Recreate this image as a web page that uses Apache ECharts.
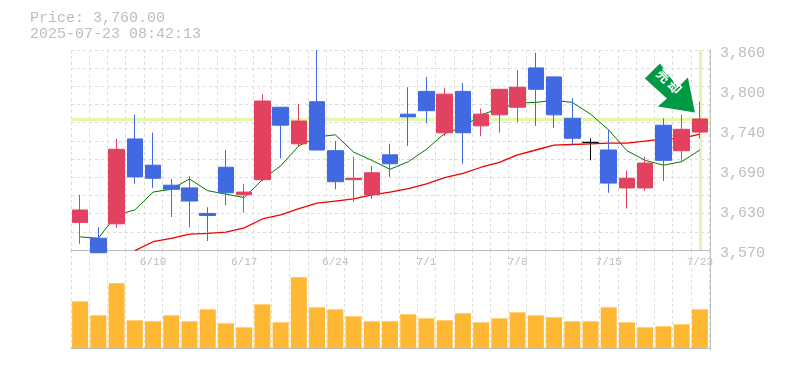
<!DOCTYPE html>
<html>
<head>
<meta charset="utf-8">
<style>html,body{margin:0;padding:0;background:#fff}</style>
<script src="https://cdn.jsdelivr.net/npm/echarts@6/dist/echarts.min.js"></script>
</head>
<body>
<div id="chart" style="width:785px;height:370px"></div>
<script>
const days = ['6/4','6/5','6/6','6/9','6/10','6/11','6/12','6/13','6/16','6/17','6/18','6/19','6/20','6/23','6/24','6/25','6/26','6/27','6/30','7/1','7/2','7/3','7/4','7/7','7/8','7/9','7/10','7/11','7/14','7/15','7/16','7/17','7/18','7/22','7/23'];
const labelDays = ['6/10','6/17','6/24','7/1','7/8','7/15','7/23'];
const opens = [3610,3587,3608,3731,3693,3664,3660,3623,3690,3650,3672,3777,3724,3785,3714,3672,3650,3708,3767,3800,3740,3800,3750,3766,3777,3834,3821,3761,3726,3715,3660,3660,3751,3714,3741];
const closes = [3628,3566,3716,3676,3674,3658,3641,3620,3653,3654,3786,3751,3757,3715,3669,3674,3682,3695,3763,3772,3796,3740,3767,3803,3806,3803,3766,3732,3726,3667,3674,3696,3700,3745,3760];
const highs = [3650,3603,3731,3766,3740,3673,3677,3632,3715,3666,3796,3777,3782,3860,3728,3705,3692,3724,3806,3821,3805,3812,3775,3803,3831,3856,3821,3790,3732,3744,3685,3705,3761,3766,3785];
const lows = [3579,3566,3602,3666,3660,3618,3603,3583,3635,3624,3670,3703,3720,3715,3658,3640,3644,3676,3721,3754,3735,3695,3735,3740,3755,3750,3747,3722,3700,3653,3630,3656,3670,3698,3732];
const ma5 = [3589,3587,3621,3628,3654,3658,3673,3656,3651,3646,3672,3692,3721,3734,3737,3712,3700,3687,3698,3716,3739,3748,3766,3775,3783,3784,3787,3784,3767,3744,3714,3700,3693,3698,3715];
const ma25 = [null,null,null,3569,3582,3587,3593,3594,3596,3602,3615,3621,3630,3638,3641,3644,3650,3654,3659,3666,3675,3681,3690,3697,3708,3715,3722,3723,3724,3725,3725,3728,3731,3732,3738];
const volumes = [140,98,194,83,80,98,80,116,74,62,131,77,212,122,116,95,80,80,101,89,83,104,77,89,107,98,92,80,80,122,77,62,65,71,116];
const priceTicks = [3570,3628,3686,3744,3802,3860];
const lastPrice = 3760;
const blackDoji = '7/14';

const gray = '#bdbdbd';
const monoFont = '"Liberation Mono", monospace';
const gridDash = { show: true, lineStyle: { color: '#dcdcdc', width: 1, type: [3, 3] } };

let candles = days.map((d, i) => {
    let item = { value: [opens[i], closes[i], lows[i], highs[i]] };
    if (d === blackDoji) {
        item.itemStyle = { color: '#000', color0: '#000', borderColor: '#000', borderColor0: '#000', borderColorDoji: '#000' };
    }
    return item;
});

let option = {
    animation: false,
    backgroundColor: '#fff',
    title: {
        text: 'Price: 3,760.00\n2025-07-23 08:42:13',
        left: 30,
        top: 10,
        padding: 0,
        textStyle: { fontFamily: monoFont, fontSize: 15, fontWeight: 'normal', color: gray, lineHeight: 16 }
    },
    grid: [
        { left: 71, top: 50, width: 638, height: 200 },
        { left: 71, top: 250, width: 638, height: 100 }
    ],
    xAxis: [
        {
            type: 'category',
            gridIndex: 0,
            data: days,
            boundaryGap: true,
            axisLine: { lineStyle: { color: gray, width: 1 } },
            axisTick: { show: false },
            splitLine: Object.assign({ interval: 0 }, gridDash),
            axisLabel: {
                interval: (i, v) => labelDays.includes(v),
                hideOverlap: false,
                margin: 7,
                fontFamily: monoFont,
                fontSize: 11,
                color: gray
            }
        },
        {
            type: 'category',
            gridIndex: 1,
            data: days,
            boundaryGap: true,
            axisLine: { lineStyle: { color: gray, width: 1 } },
            axisTick: { show: false },
            axisLabel: { show: false },
            splitLine: Object.assign({ interval: 0 }, gridDash)
        }
    ],
    yAxis: [
        {
            type: 'value',
            gridIndex: 0,
            position: 'right',
            offset: 1,
            min: 3570,
            max: 3860,
            axisLine: { show: true, lineStyle: { color: gray, width: 1 } },
            axisTick: { show: false },
            splitLine: { show: false },
            axisLabel: {
                customValues: priceTicks,
                formatter: v => (Math.round(v / 10) * 10).toLocaleString('en-US'),
                margin: 10,
                verticalAlign: 'top',
                lineHeight: 6,
                fontFamily: monoFont,
                fontSize: 15,
                color: gray
            }
        },
        {
            // only there for the 11 dashed rows behind the candles
            type: 'value',
            gridIndex: 0,
            position: 'left',
            min: 0,
            max: 11,
            interval: 1,
            axisLine: { show: false },
            axisTick: { show: false },
            axisLabel: { show: false },
            splitLine: gridDash
        },
        {
            type: 'value',
            gridIndex: 1,
            position: 'right',
            offset: 1,
            min: -6,
            max: 294,
            axisLine: { show: true, lineStyle: { color: gray, width: 1 } },
            axisTick: { show: false },
            axisLabel: { show: false },
            splitLine: { show: false }
        }
    ],
    series: [
        {
            type: 'line',
            data: ma25,
            xAxisIndex: 0,
            yAxisIndex: 0,
            z: 2,
            symbol: 'none',
            lineStyle: { color: '#f00000', width: 1.3 }
        },
        {
            type: 'line',
            data: ma5,
            xAxisIndex: 0,
            yAxisIndex: 0,
            z: 2,
            symbol: 'none',
            lineStyle: { color: '#007a00', width: 1 },
            markLine: {
                silent: true,
                symbol: 'none',
                z: 1,
                label: { show: false },
                lineStyle: { color: '#e4f5ae', width: 3, type: 'solid' },
                data: [{ yAxis: lastPrice }, { xAxis: days[days.length - 1] }]
            }
        },
        {
            type: 'candlestick',
            data: candles,
            xAxisIndex: 0,
            yAxisIndex: 0,
            z: 3,
            clip: false,
            barWidth: 16,
            itemStyle: {
                color: '#e2415f',
                color0: '#4169e1',
                borderColor: '#e2415f',
                borderColor0: '#4169e1',
                borderWidth: 1
            },
            markPoint: {
                silent: true,
                data: [{
                    coord: [days[days.length - 1], 3805],
                    symbol: 'path://M15 0 L0 15 L22 35 L13 43 L50 49 L43 14 L33 24 Z',
                    symbolSize: [50, 49],
                    symbolOffset: [-30, 0],
                    itemStyle: { color: '#009944' },
                    label: {
                        show: true,
                        formatter: '売 却',
                        position: 'inside',
                        offset: [-5, -4],
                        rotate: -45,
                        fontFamily: '"Noto Sans CJK JP"',
                        fontWeight: 'bold',
                        fontSize: 13,
                        color: '#fff'
                    }
                }]
            }
        },
        {
            type: 'bar',
            data: volumes,
            xAxisIndex: 1,
            yAxisIndex: 2,
            barWidth: 16,
            itemStyle: { color: '#ffb833' }
        }
    ]
};

let myChart = echarts.init(document.getElementById('chart'), null, { renderer: 'canvas' });
myChart.setOption(option);
</script>
</body>
</html>
